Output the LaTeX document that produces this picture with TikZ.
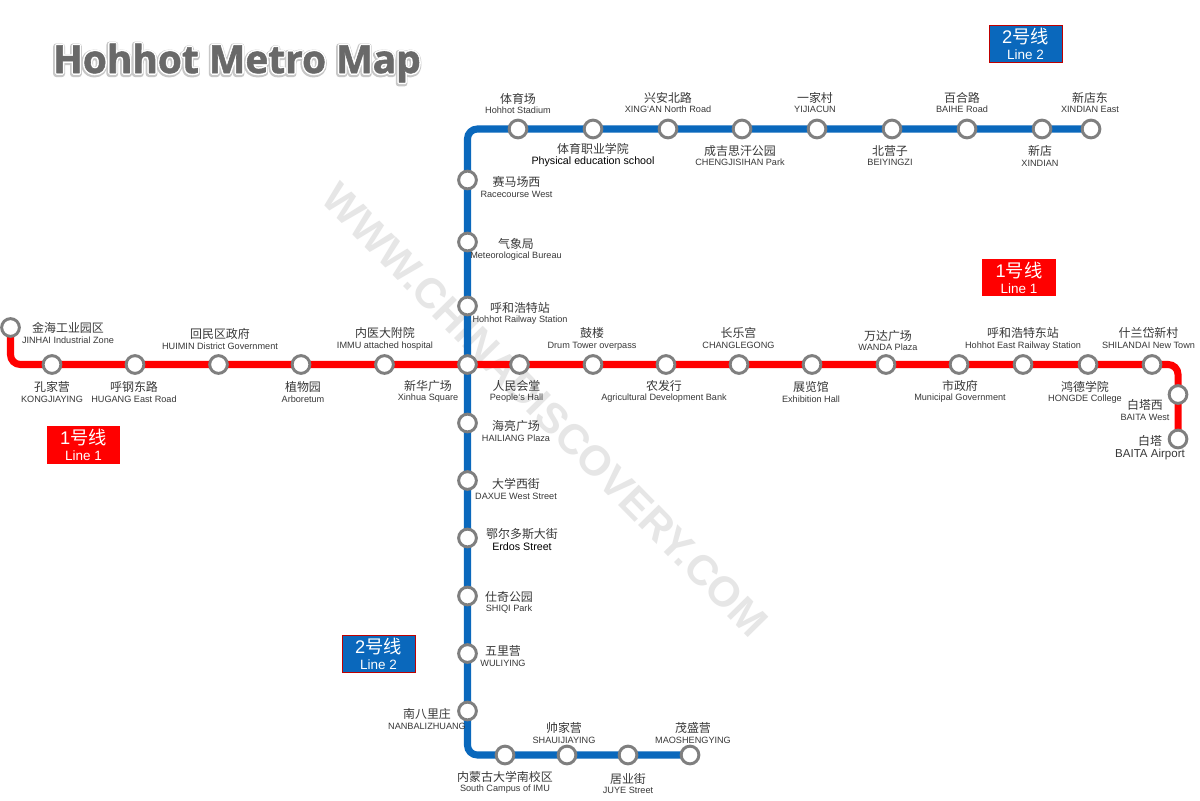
\documentclass[tikz,border=0pt]{standalone}
\usepackage{fontspec}
\setmainfont{Liberation Sans}
\newfontfamily\cjk{Noto Sans CJK SC}
\newfontfamily\titlefont{Open Sans}
\usepackage{xcolor}
\usetikzlibrary{backgrounds}
\definecolor{lineblue}{HTML}{0A68BC}
\definecolor{linered}{HTML}{FF0000}
\definecolor{ringgray}{HTML}{7F7F7F}
\definecolor{labelgray}{HTML}{383838}
\definecolor{markgray}{HTML}{E6E6E6}
\definecolor{titlegray}{HTML}{696969}
% text with a stroked edge of the given width
\newcommand{\edgedtext}[2]{\special{pdf:code 2 Tr #1 w 1 j}#2\special{pdf:code 0 Tr 1 w 0 j}}
\tikzset{
	station/.style={circle, draw=ringgray, fill=white, line width=2.1pt, minimum size=12.6pt, inner sep=0pt},
	stationlabel/.style={align=center, inner sep=0pt, yshift=-0.5pt, text=labelgray, font=\fontsize{6.5}{7.5}\selectfont},
	biglabel/.style={align=center, inner sep=0pt, text=black, font=\fontsize{7.6}{8.4}\selectfont},
	linetwo/.style={lineblue, line width=5pt, rounded corners=7pt},
	lineone/.style={linered, line width=5pt, rounded corners=7pt},
	badge/.style={align=center, inner sep=0pt, minimum width=52pt, minimum height=26.6pt, text=white, font=\fontsize{9.6}{11.5}\selectfont},
	titletext/.style={inner sep=0pt, font=\titlefont\bfseries\fontsize{27.6}{33}\selectfont}
}
\begin{document}
\begin{tikzpicture}[x=0.025cm, y=-0.025cm]
	\useasboundingbox (0,0) rectangle (1200,800);
	% title
	\node[titletext, text=black!22] (titleshade) at (236.5,64) {\edgedtext{4.2}{Hohhot Metro Map}};
	\node[titletext, text=white] (titleedge) at (237,63) {\edgedtext{2.6}{Hohhot Metro Map}};
	\node[titletext, text=titlegray] (title) at (237,63) {\edgedtext{0.4}{Hohhot Metro Map}};
	% line 1 stations
	\foreach \name/\x/\y in {jinhai/10.5/327.5, kongjiaying/52/364.5, hugang/135/364.5, huimin/218.5/364.5, arboretum/301/364.5, immu/384.5/364.5, drumtower/593/364.5, renmin/519.5/364.5, nongfa/666/364.5, changle/739/364.5, exhibition/812/364.5, wanda/886/364.5, shizheng/959/364.5, eaststation/1023/364.5, hongde/1088/364.5, shilandai/1152/364.5, baitawest/1178/394.5, baita/1178/439}
		\node[station] (\name) at (\x,\y) {};
	% line 2 stations
	\foreach \name/\x/\y in {xindianeast/1091/129, xindian/1042/129, baihe/967/129, beiyingzi/892/129, yijiacun/817/129, chengji/742/129, xingan/668/129, tiyuzhiye/593/129, stadium/518/129, racecourse/467.5/180, qixiang/467.5/242, railway/467.5/306, xinhua/467.5/364.5, hailiang/467.5/423, daxue/467.5/480.5, erdos/467.5/538, shiqi/467.5/596, wuliying/467.5/653.5, nanbali/467.5/711, imu/505/755, shuaijia/567/755, juye/628/755, maosheng/690/755}
		\node[station] (\name) at (\x,\y) {};
	% tracks and watermark go under the stations
	\begin{pgfonlayer}{background}
		\fill[white] (0,0) rectangle (1200,800);
		\node[rotate=-45.5, inner sep=0pt, text=markgray, font=\bfseries\fontsize{30}{33}\selectfont] (watermark) at (545,410) {WWW.CHINADISCOVERY.COM};
		\draw[lineone] (jinhai.center) |- (shilandai.center) -| (baita.center);
		\draw[linetwo] (xindianeast.center) -| (nanbali.center) |- (maosheng.center);
	\end{pgfonlayer}
	% labels
	\foreach \name/\x/\y/\zh/\en in {
		stadium/518/103/体育场/Hohhot Stadium,
		xingan/668/102/兴安北路/XING`AN North Road,
		yijiacun/815/102/一家村/YIJIACUN,
		baihe/962/102/百合路/BAIHE Road,
		xindianeast/1090/102/新店东/XINDIAN East,
		chengji/740/155/成吉思汗公园/CHENGJISIHAN Park,
		beiyingzi/890/155/北营子/BEIYINGZI,
		xindian/1040/155/新店/XINDIAN,
		racecourse/516.5/186.5/赛马场西/Racecourse West,
		qixiang/516/248.5/气象局/Meteorological Bureau,
		railway/520/312.5/呼和浩特站/Hohhot Railway Station,
		jinhai/68/332.5/金海工业园区/JINHAI Industrial Zone,
		kongjiaying/52/391.5/孔家营/KONGJIAYING,
		hugang/134/391.5/呼钢东路/HUGANG East Road,
		huimin/220/338/回民区政府/HUIMIN District Government,
		arboretum/303/391.5/植物园/Arboretum,
		immu/385/338/内医大附院/IMMU attached hospital,
		xinhua/428/390.5/新华广场/Xinhua Square,
		renmin/516.5/390.5/人民会堂/People`s Hall,
		drumtower/592/338/鼓楼/Drum Tower overpass,
		nongfa/664/390.5/农发行/Agricultural Development Bank,
		changle/738.5/337.5/长乐宫/CHANGLEGONG,
		exhibition/811/391.5/展览馆/Exhibition Hall,
		wanda/888/340/万达广场/WANDA Plaza,
		shizheng/960/390.5/市政府/Municipal Government,
		eaststation/1023/338/呼和浩特东站/Hohhot East Railway Station,
		hongde/1085/391.5/鸿德学院/HONGDE College,
		shilandai/1148.5/337.5/什兰岱新村/SHILANDAI New Town,
		baitawest/1145/409.5/白塔西/BAITA West,
		hailiang/516/430.5/海亮广场/HAILIANG Plaza,
		daxue/516/488.5/大学西街/DAXUE West Street,
		shiqi/509/601.5/仕奇公园/SHIQI Park,
		wuliying/503/655.5/五里营/WULIYING,
		nanbali/427/718.5/南八里庄/NANBALIZHUANG,
		shuaijia/564/732.5/帅家营/SHAUIJIAYING,
		maosheng/693/732.5/茂盛营/MAOSHENGYING,
		imu/505/781.5/内蒙古大学南校区/South Campus of IMU,
		juye/628/783/居业街/JUYE Street}
		\node[stationlabel] (label\name) at (\x,\y) {{\cjk\fontsize{8.5}{7.5}\selectfont \zh}\\\en};
	\foreach \name/\x/\y/\zh/\en in {
		tiyuzhiye/593/155/体育职业学院/Physical education school,
		erdos/522/539.5/鄂尔多斯大街/Erdos Street}
		\node[biglabel] (label\name) at (\x,\y) {{\cjk\color{labelgray}\fontsize{8.5}{8.4}\selectfont \zh}\\\en};
	\node[biglabel, text=labelgray, font=\fontsize{8.2}{8.4}\selectfont] (labelbaita) at (1150,447.5) {{\cjk\fontsize{8.5}{8.4}\selectfont 白塔}\\BAITA Airport};
	% line badges
	\node[badge, fill=lineblue, draw=red!75!black, line width=0.4pt] (badgetwotop) at (1025.5,44) {{\fontsize{13}{15}\selectfont 2\cjk 号线}\\Line 2};
	\node[badge, fill=lineblue, draw=red!75!black, line width=0.4pt] (badgetwoleft) at (378.5,653.5) {{\fontsize{13}{15}\selectfont 2\cjk 号线}\\Line 2};
	\node[badge, fill=linered] (badgeonetop) at (1019,277.5) {{\fontsize{13}{15}\selectfont 1\cjk 号线}\\Line 1};
	\node[badge, fill=linered] (badgeoneleft) at (83.5,445) {{\fontsize{13}{15}\selectfont 1\cjk 号线}\\Line 1};
\end{tikzpicture}
\end{document}
